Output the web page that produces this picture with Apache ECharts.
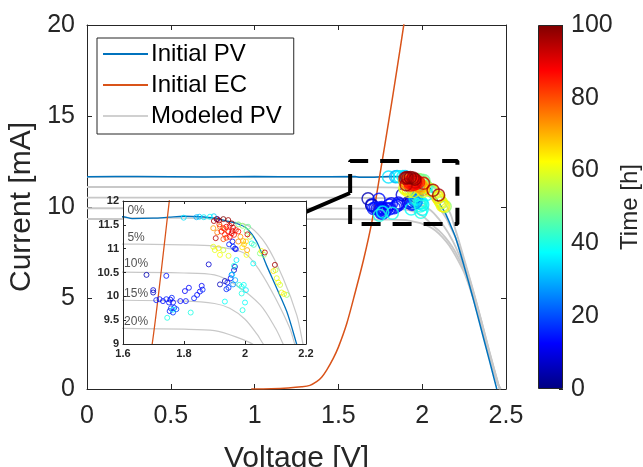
<!DOCTYPE html>
<html>
<head>
<meta charset="utf-8">
<script src="https://cdn.jsdelivr.net/npm/echarts@6.0.0/dist/echarts.min.js"></script>
<style>
html, body { margin: 0; padding: 0; background: #fff; }
#chart { width: 643px; height: 467px; }
</style>
</head>
<body>
<div id="chart"></div>
<script>
// ---- data: [Voltage V, Current mA] ----
var pvInitial = [[0, 11.66], [0.3, 11.68], [0.7, 11.65], [1.0, 11.67], [1.3, 11.66], [1.6, 11.67], [1.63, 11.63],
  [1.7, 11.64], [1.75, 11.66], [1.8, 11.68], [1.85, 11.67], [1.9, 11.64], [1.94, 11.58], [1.972, 11.53],
  [2.005, 11.43], [2.038, 11.15], [2.07, 10.66], [2.104, 10.17], [2.137, 9.68], [2.167, 9.05], [2.2, 8.3],
  [2.25, 6.75], [2.3, 5.1], [2.35, 3.35], [2.4, 1.6], [2.445, 0]];
var ecInitial = [[0.98, 0], [1.1, 0.02], [1.2, 0.06], [1.28, 0.12], [1.33, 0.2], [1.37, 0.4], [1.4, 0.65],
  [1.43, 1.04], [1.47, 1.7], [1.5, 2.3], [1.55, 3.6], [1.6, 5.3], [1.65, 7.1], [1.7, 9.2], [1.75, 11.9],
  [1.8, 14.7], [1.85, 17.6], [1.9, 20.6]];
var modeled0 = [[0, 11.65], [1.5, 11.65], [1.8, 11.64], [1.9, 11.62], [1.97, 11.55], [2.016, 11.46], [2.07, 11.08],
  [2.125, 10.38], [2.17, 9.6], [2.19, 9.0], [2.22, 8.1], [2.25, 7.15], [2.3, 5.55], [2.35, 3.85], [2.4, 2.1],
  [2.45, 0.4], [2.462, 0]];
var modeled5 = [[0, 11.1], [1.5, 11.1], [1.8, 11.08], [1.9, 11.05], [2.0, 10.9], [2.05, 10.52], [2.1, 9.96],
  [2.147, 9.33], [2.163, 9.0], [2.2, 8.3], [2.25, 7.0], [2.3, 5.5], [2.35, 3.85], [2.4, 2.05], [2.45, 0.4], [2.463, 0]];
var modeled10 = [[0, 10.52], [1.5, 10.51], [1.8, 10.49], [1.9, 10.45], [1.97, 10.24], [2.05, 9.82], [2.1, 9.33],
  [2.125, 9.0], [2.16, 8.5], [2.2, 7.8], [2.25, 6.7], [2.3, 5.35], [2.35, 3.75], [2.4, 2.0], [2.45, 0.35], [2.465, 0]];
var modeled15 = [[0, 9.93], [1.5, 9.92], [1.8, 9.9], [1.9, 9.85], [1.95, 9.75], [2.0, 9.52], [2.04, 9.2], [2.06, 9.0],
  [2.1, 8.7], [2.14, 8.3], [2.18, 7.8], [2.22, 7.15], [2.26, 6.3], [2.3, 5.25], [2.35, 3.65], [2.4, 1.9],
  [2.45, 0.3], [2.467, 0]];
var modeled20 = [[0, 9.34], [1.5, 9.33], [1.8, 9.31], [1.9, 9.28], [1.97, 9.15], [2.03, 8.98], [2.08, 8.7],
  [2.12, 8.35], [2.16, 7.9], [2.2, 7.3], [2.25, 6.4], [2.3, 5.1], [2.35, 3.55], [2.4, 1.85], [2.45, 0.3], [2.47, 0]];

// operating points [V, mA, time h]
var pvPoints = [
  [1.677, 10.45, 5], [1.699, 10.13, 8], [1.699, 10.08, 6], [1.881, 10.67, 8], [1.918, 10.25, 6], [1.934, 10.32, 5],
  [1.964, 10.55, 7], [1.967, 10.62, 9], [1.967, 11.0, 10], [1.959, 11.15, 10],
  [1.742, 10.43, 14], [1.709, 9.92, 15], [1.72, 9.94, 14], [1.731, 9.9, 13], [1.742, 9.94, 15], [1.755, 9.93, 12],
  [1.76, 9.97, 16], [1.751, 9.87, 14], [1.764, 9.87, 13], [1.757, 9.75, 16], [1.768, 9.76, 18], [1.753, 9.69, 15],
  [1.764, 9.66, 17], [1.775, 9.73, 18], [1.788, 9.9, 12], [1.806, 9.9, 14], [1.803, 10.11, 12], [1.816, 10.18, 13],
  [1.833, 9.96, 15], [1.843, 10.03, 14], [1.852, 10.1, 13], [1.861, 10.14, 16], [1.858, 10.22, 12],
  [1.942, 10.29, 14], [1.946, 10.18, 18], [1.939, 10.15, 16], [1.953, 10.38, 12], [1.956, 10.45, 20],
  [1.948, 11.09, 15], [1.961, 11.04, 18], [1.97, 10.99, 14], [1.909, 11.62, 12],
  [1.799, 11.65, 35], [1.841, 11.66, 30], [1.85, 11.67, 32], [1.865, 11.66, 36], [1.885, 11.67, 38], [1.898, 11.68, 33],
  [1.764, 9.72, 38], [1.745, 9.55, 40], [1.822, 9.66, 40], [1.934, 9.89, 38], [1.992, 9.71, 40], [2.0, 9.87, 38],
  [1.972, 10.76, 36], [1.964, 10.64, 40], [1.958, 10.46, 35], [1.981, 10.24, 42], [1.989, 10.2, 40], [1.996, 10.24, 38],
  [2.003, 10.13, 36], [2.027, 10.69, 38], [1.968, 10.34, 30], [1.961, 10.25, 26], [1.989, 10.06, 40],
  [2.022, 11.11, 40], [2.029, 11.08, 45],
  [1.978, 11.51, 50], [1.992, 11.48, 52], [2.005, 11.37, 50], [2.016, 11.25, 55], [2.049, 10.9, 50], [2.062, 10.87, 52],
  [2.1, 10.55, 55], [2.137, 10.03, 52], [2.01, 11.46, 48],
  [1.901, 10.97, 60], [1.918, 10.87, 62], [1.896, 11.04, 60], [1.913, 11.01, 64], [1.929, 10.97, 58], [1.946, 10.85, 60],
  [2.005, 10.87, 62], [1.991, 11.03, 65], [1.997, 11.09, 68], [2.104, 10.38, 60], [2.109, 10.29, 62], [2.115, 10.24, 58],
  [2.12, 10.08, 60], [2.128, 10.05, 64], [2.054, 10.95, 62], [2.093, 10.53, 65], [2.003, 11.15, 66],
  [1.896, 11.43, 72], [1.918, 11.46, 75], [1.934, 11.41, 74], [1.985, 11.25, 72], [1.994, 11.16, 70], [1.909, 11.34, 76],
  [1.978, 11.15, 74], [2.007, 10.97, 72],
  [1.929, 11.2, 80], [1.934, 11.3, 83], [1.939, 11.23, 82], [1.929, 11.43, 85], [1.939, 11.46, 88], [1.95, 11.48, 86],
  [1.961, 11.44, 90], [1.97, 11.39, 84], [1.945, 11.36, 87], [1.956, 11.32, 89], [1.964, 11.29, 85], [1.923, 11.36, 86],
  [1.95, 11.25, 88], [1.978, 11.36, 86], [1.959, 11.37, 92], [1.916, 11.51, 84], [2.008, 11.3, 92],
  [1.904, 11.22, 94], [2.065, 10.92, 95], [2.098, 10.66, 96],
  [1.898, 11.58, 95], [1.915, 11.59, 96], [1.945, 11.6, 97], [1.907, 11.62, 98], [1.956, 11.53, 99], [1.929, 11.62, 100]
];

// zoom box and arrow (data coords)
var boxV = [1.57, 2.21];
var boxI = [9.07, 12.53];
var arrowFrom = [1.569, 10.77];
var arrowTo = [1.307, 9.73];

// degradation labels in the inset
var pctLabels = ['0%', '5%', '10%', '15%', '20%'];
var pctLabelI = [11.79, 11.24, 10.68, 10.05, 9.46];
var pctLabelV = 1.643;

var xTicksMain = { min: 0, max: 2.5, interval: 0.5 };
var yTicksMain = { min: 0, max: 20, interval: 5 };
var xTicksInset = { min: 1.6, max: 2.2, interval: 0.2 };
var yTicksInset = { min: 9, max: 12, interval: 0.5 };
var timeTicks = { min: 0, max: 100, interval: 20 };

var FONT = 'Liberation Sans, Arial, sans-serif';
var TXT = '#262626';
var GRAY = '#C8C8C8';
var BLUE = '#0072BD';
var ORANGE = '#D95319';

function jet(t) {
  var x = t / 100;
  function c(v) { return Math.round(255 * Math.max(0, Math.min(1, v))); }
  return 'rgb(' + c(1.5 - Math.abs(4 * x - 3)) + ',' + c(1.5 - Math.abs(4 * x - 2)) + ',' + c(1.5 - Math.abs(4 * x - 1)) + ')';
}

var myChart = echarts.init(document.getElementById('chart'), null, { renderer: 'canvas' });

function valAxis(grid, r, pos, opts) {
  var a = {
    gridIndex: grid, type: 'value', position: pos, min: r.min, max: r.max, interval: r.interval,
    axisLine: { show: true, onZero: false, lineStyle: { color: TXT, width: 1 } },
    axisTick: { show: true, inside: true, length: 5, lineStyle: { color: TXT } },
    axisLabel: { show: false },
    splitLine: { show: false }
  };
  return Object.assign(a, opts || {});
}

var modeledAll = [modeled0, modeled5, modeled10, modeled15, modeled20];
var series = [];

// main plot
modeledAll.forEach(function (d) {
  series.push({ name: 'Modeled PV', type: 'line', xAxisIndex: 0, yAxisIndex: 0, data: d, symbol: 'none',
    smooth: 0.3, lineStyle: { color: GRAY, width: 1.8 }, itemStyle: { color: GRAY }, z: 2 });
});
series.push({ name: 'Initial PV', type: 'line', xAxisIndex: 0, yAxisIndex: 0, data: pvInitial, symbol: 'none',
  smooth: 0.3, lineStyle: { color: BLUE, width: 1.5 }, itemStyle: { color: BLUE }, z: 3 });
series.push({ name: 'Initial EC', type: 'line', xAxisIndex: 0, yAxisIndex: 0, data: ecInitial, symbol: 'none',
  smooth: 0.3, lineStyle: { color: ORANGE, width: 1.5 }, itemStyle: { color: ORANGE }, z: 3 });
series.push({ name: 'points', type: 'scatter', xAxisIndex: 0, yAxisIndex: 0, symbol: 'circle', symbolSize: 12,
  data: pvPoints.map(function (p) { return { value: p, itemStyle: { borderColor: jet(p[2]) } }; }),
  itemStyle: { color: 'rgba(0,0,0,0)', borderWidth: 1.5 }, z: 4 });
series.push({ name: 'box', type: 'line', xAxisIndex: 0, yAxisIndex: 0, symbol: 'none', silent: true,
  data: [[boxV[0], boxI[0]], [boxV[0], boxI[1]], [boxV[1], boxI[1]], [boxV[1], boxI[0]], [boxV[0], boxI[0]]],
  lineStyle: { color: '#000', width: 4, type: [19, 12] }, z: 30,
  markLine: { silent: true, symbol: ['none', 'arrow'], symbolSize: [0, 18], label: { show: false },
    lineStyle: { color: '#000', width: 4, type: 'solid' },
    data: [[{ coord: arrowFrom }, { coord: arrowTo }]] } });

// inset
modeledAll.forEach(function (d) {
  series.push({ name: 'Modeled PV', type: 'line', xAxisIndex: 2, yAxisIndex: 2, data: d, symbol: 'none',
    smooth: 0.3, lineStyle: { color: GRAY, width: 1.2 }, itemStyle: { color: GRAY }, z: 20 });
});
series.push({ name: 'Initial PV', type: 'line', xAxisIndex: 2, yAxisIndex: 2, data: pvInitial, symbol: 'none',
  smooth: 0.3, lineStyle: { color: BLUE, width: 1.3 }, itemStyle: { color: BLUE }, z: 21 });
series.push({ name: 'Initial EC', type: 'line', xAxisIndex: 2, yAxisIndex: 2, data: ecInitial, symbol: 'none',
  smooth: 0.3, lineStyle: { color: ORANGE, width: 1.3 }, itemStyle: { color: ORANGE }, z: 21 });
series.push({ name: 'points', type: 'scatter', xAxisIndex: 2, yAxisIndex: 2, symbol: 'circle', symbolSize: 5,
  data: pvPoints.map(function (p) { return { value: p, itemStyle: { borderColor: jet(p[2]) } }; }),
  itemStyle: { color: 'rgba(0,0,0,0)', borderWidth: 1 }, z: 22 });
series.push({ name: 'pct', type: 'scatter', xAxisIndex: 2, yAxisIndex: 2, symbol: 'circle', symbolSize: 1, silent: true,
  data: pctLabelI.map(function (y, i) { return { value: [pctLabelV, y], name: pctLabels[i] }; }),
  itemStyle: { color: 'rgba(0,0,0,0)' },
  label: { show: true, position: 'inside', formatter: '{b}', fontSize: 12, color: TXT, fontFamily: FONT }, z: 23 });

// colorbar
var stops = [0, 0.125, 0.375, 0.625, 0.875, 1].map(function (s) { return { offset: s, color: jet(s * 100) }; });
series.push({ name: 'colorbar', type: 'bar', xAxisIndex: 4, yAxisIndex: 4, data: [timeTicks.max], barWidth: '100%',
  silent: true, itemStyle: { color: new echarts.graphic.LinearGradient(0, 1, 0, 0, stops), borderColor: TXT, borderWidth: 1 } });

myChart.setOption({
  animation: false,
  backgroundColor: '#fff',
  textStyle: { fontFamily: FONT },
  grid: [
    { left: 87, top: 25, width: 419, height: 364, outerBoundsMode: 'none', containLabel: false },
    { left: 123, top: 201, width: 183, height: 143, outerBoundsMode: 'none', containLabel: false },
    { left: 538, top: 25, width: 25, height: 364, outerBoundsMode: 'none', containLabel: false }
  ],
  graphic: [
    { type: 'rect', z: 10, shape: { x: 123, y: 201, width: 183, height: 143 }, style: { fill: '#fff' } }
  ],
  legend: {
    data: [
      { name: 'Initial PV', itemStyle: { color: BLUE } },
      { name: 'Initial EC', itemStyle: { color: ORANGE } },
      { name: 'Modeled PV', itemStyle: { color: '#D0D0D0' } }
    ],
    icon: 'rect',
    orient: 'vertical', left: 97, top: 38,
    itemWidth: 45, itemHeight: 2, itemGap: 5,
    padding: [3, 12, 5, 6],
    borderColor: TXT, borderWidth: 1, backgroundColor: '#fff',
    textStyle: { fontSize: 24, color: '#000', lineHeight: 26, fontFamily: FONT, padding: [0, 0, 0, -2] },
    z: 40
  },
  xAxis: [
    valAxis(0, xTicksMain, 'bottom', {
      axisLabel: { show: true, fontSize: 25, color: TXT, margin: 15, fontFamily: FONT },
      name: 'Voltage [V]', nameLocation: 'middle', nameGap: 55,
      nameTextStyle: { fontSize: 30, color: TXT, fontFamily: FONT }
    }),
    valAxis(0, xTicksMain, 'top'),
    valAxis(1, xTicksInset, 'bottom', { z: 25,
      axisTick: { show: true, inside: true, length: 3, lineStyle: { color: TXT } },
      axisLabel: { show: true, fontSize: 11, fontWeight: 'bold', color: TXT, margin: 4, fontFamily: FONT } }),
    valAxis(1, xTicksInset, 'top', { z: 25, axisTick: { show: true, inside: true, length: 3, lineStyle: { color: TXT } } }),
    { gridIndex: 2, type: 'category', data: ['t'], show: false }
  ],
  yAxis: [
    valAxis(0, yTicksMain, 'left', {
      axisLabel: { show: true, fontSize: 25, color: TXT, margin: 12, fontFamily: FONT },
      name: 'Current [mA]', nameLocation: 'middle', nameGap: 48,
      nameTextStyle: { fontSize: 30, color: TXT, fontFamily: FONT }
    }),
    valAxis(0, yTicksMain, 'right'),
    valAxis(1, yTicksInset, 'left', { z: 25,
      axisTick: { show: true, inside: true, length: 3, lineStyle: { color: TXT } },
      axisLabel: { show: true, fontSize: 11, fontWeight: 'bold', color: TXT, margin: 4, fontFamily: FONT } }),
    valAxis(1, yTicksInset, 'right', { z: 25, axisTick: { show: true, inside: true, length: 3, lineStyle: { color: TXT } } }),
    valAxis(2, timeTicks, 'right', {
      axisLine: { show: false, onZero: false },
      axisTick: { show: true, inside: true, length: 4, lineStyle: { color: TXT } },
      axisLabel: { show: true, fontSize: 25, color: TXT, margin: 8, fontFamily: FONT },
      name: 'Time [h]', nameLocation: 'middle', nameGap: 55, nameRotate: 90,
      nameTextStyle: { fontSize: 24, color: TXT, fontFamily: FONT }
    })
  ],
  series: series
});
</script>
</body>
</html>
